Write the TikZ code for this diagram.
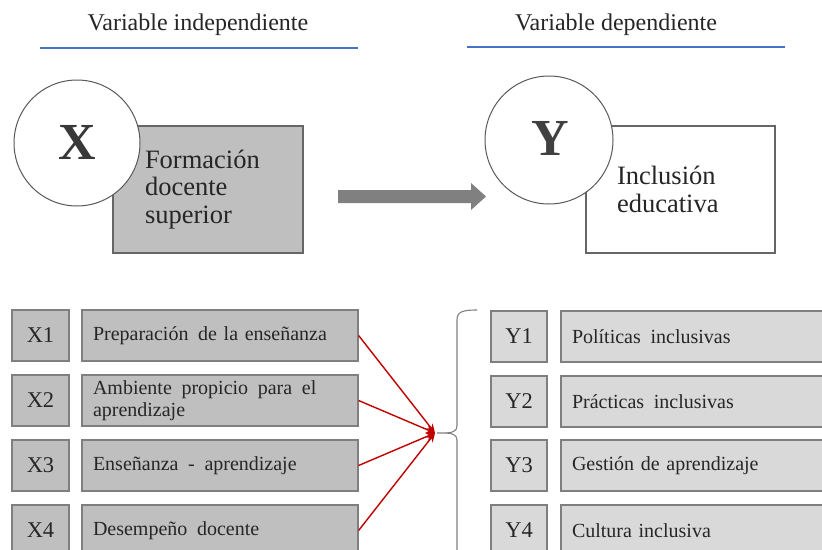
\documentclass[tikz,border=0pt]{standalone}
\usepackage{fontspec}
\setmainfont{Liberation Serif}
\usetikzlibrary{arrows.meta}
\definecolor{boxgray}{HTML}{BFBFBF}
\definecolor{lightbox}{HTML}{D9D9D9}
\definecolor{edgegray}{HTML}{7F7F7F}
\definecolor{txt}{HTML}{262626}
\definecolor{titleblue}{HTML}{4472C4}
\definecolor{arrowred}{HTML}{C00000}
\definecolor{bigarrow}{HTML}{808080}
\newcommand{\wsp}{\ \hspace{3pt}}
\tikzset{
  titletext/.style={anchor=base, inner sep=0pt, text=txt, font=\fontsize{24}{28}\selectfont},
  titleline/.style={draw=titleblue, line width=1.6pt},
  bigcircle/.style={circle, draw=black!65, line width=1pt, fill=white, minimum size=#1, inner sep=0pt},
  mainbox/.style={rectangle, draw=black!60, line width=1.1pt, minimum height=127pt, align=left, text=txt, font=\fontsize{26.5}{27.5}\selectfont},
  labelbox/.style={rectangle, draw=edgegray, line width=1.2pt, minimum height=51pt, inner sep=0pt, text=txt, font=\fontsize{22.5}{24}\selectfont},
  itembox/.style={rectangle, draw=edgegray, line width=1.2pt, minimum height=51pt, inner ysep=0pt, inner xsep=11pt, align=left, text=txt, font=\fontsize{20}{22.5}\selectfont},
  redline/.style={draw=arrowred, line width=1.4pt, -{Stealth[length=9pt,width=8pt]}},
  bracestyle/.style={draw=black!50, line width=1.1pt},
}
\begin{document}
\begin{tikzpicture}[x=1pt,y=-1pt]
\useasboundingbox (0,0) rectangle (822,549);
\clip (0,0) rectangle (822,549);
\fill[white] (0,0) rectangle (822,549);

% titles
\node[titletext] (t1) at (198,30) {Variable independiente};
\node[titletext] (t2) at (616,30) {Variable dependiente};
\draw[titleline] (40,48) -- (358,48);
\draw[titleline] (467,47) -- (785,47);

% top boxes
\node[mainbox, fill=boxgray, minimum width=190pt, text width=126pt, inner xsep=32pt, inner ysep=0pt] (fds) at (208,189.5) {Formación\\docente\\superior};
\node[mainbox, fill=white, minimum width=189pt, text width=127pt, inner xsep=31pt, inner ysep=0pt] (ie) at (680.5,189.5) {Inclusión\\educativa};

% circles
\node[bigcircle=126pt] (cx) at (77,143) {};
\node[anchor=center, inner sep=0pt, text=black!78, font=\bfseries\fontsize{52}{52}\selectfont] (lx) at (77,142) {X};
\node[bigcircle=128pt] (cy) at (549,140) {};
\node[anchor=center, inner sep=0pt, text=black!75, font=\bfseries\fontsize{52}{52}\selectfont] (ly) at (550,138.5) {Y};

% big gray arrow
\fill[bigarrow] (338,190) -- (471,190) -- (471,183) -- (486,196.5) -- (471,210) -- (471,203) -- (338,203) -- cycle;

% X rows
\node[labelbox, fill=boxgray, minimum width=57pt] (x1) at (40.5,335.5) {X1};
\node[labelbox, fill=boxgray, minimum width=57pt] (x2) at (40.5,400.5) {X2};
\node[labelbox, fill=boxgray, minimum width=57pt] (x3) at (40.5,465.5) {X3};
\node[labelbox, fill=boxgray, minimum width=57pt] (x4) at (40.5,530.5) {X4};

\node[itembox, fill=boxgray, text width=254pt] (d1) at (220,335.5) {Preparación\wsp de la enseñanza};
\node[itembox, fill=boxgray, text width=254pt] (d2) at (220,400.5) {Ambiente\wsp propicio\wsp para\wsp el\\aprendizaje};
\node[itembox, fill=boxgray, text width=254pt] (d3) at (220,465.5) {Enseñanza\wsp -\wsp aprendizaje};
\node[itembox, fill=boxgray, text width=254pt] (d4) at (220,530.5) {Desempeño\wsp docente};

% Y rows
\node[labelbox, fill=lightbox, minimum width=56pt] (y1) at (519,336.5) {Y1};
\node[labelbox, fill=lightbox, minimum width=56pt] (y2) at (519,401.5) {Y2};
\node[labelbox, fill=lightbox, minimum width=56pt] (y3) at (519,465.5) {Y3};
\node[labelbox, fill=lightbox, minimum width=56pt] (y4) at (519,530.5) {Y4};

\node[itembox, fill=lightbox, text width=247pt] (e1) at (695.5,336.5) {Políticas\wsp inclusivas};
\node[itembox, fill=lightbox, text width=247pt] (e2) at (695.5,401.5) {Prácticas\wsp inclusivas};
\node[itembox, fill=lightbox, text width=247pt] (e3) at (695.5,465.5) {Gestión de aprendizaje};
\node[itembox, fill=lightbox, text width=247pt] (e4) at (695.5,530.5) {Cultura inclusiva};

% hub and red connectors
\coordinate (hub) at (435,433);
\draw[redline] (d1.east) -- (hub);
\draw[redline] (d2.east) -- (hub);
\draw[redline] (d3.east) -- (hub);
\draw[redline] (d4.east) -- (hub);

% brace
\draw[bracestyle] (477,310) .. controls (462,310) and (457,312) .. (457,320) -- (457,426)
  .. controls (457,431) and (452,433) .. (446,433) -- (437,433);
\draw[bracestyle] (446,433) .. controls (452,433) and (457,435) .. (457,440) -- (457,560);
\end{tikzpicture}
\end{document}
